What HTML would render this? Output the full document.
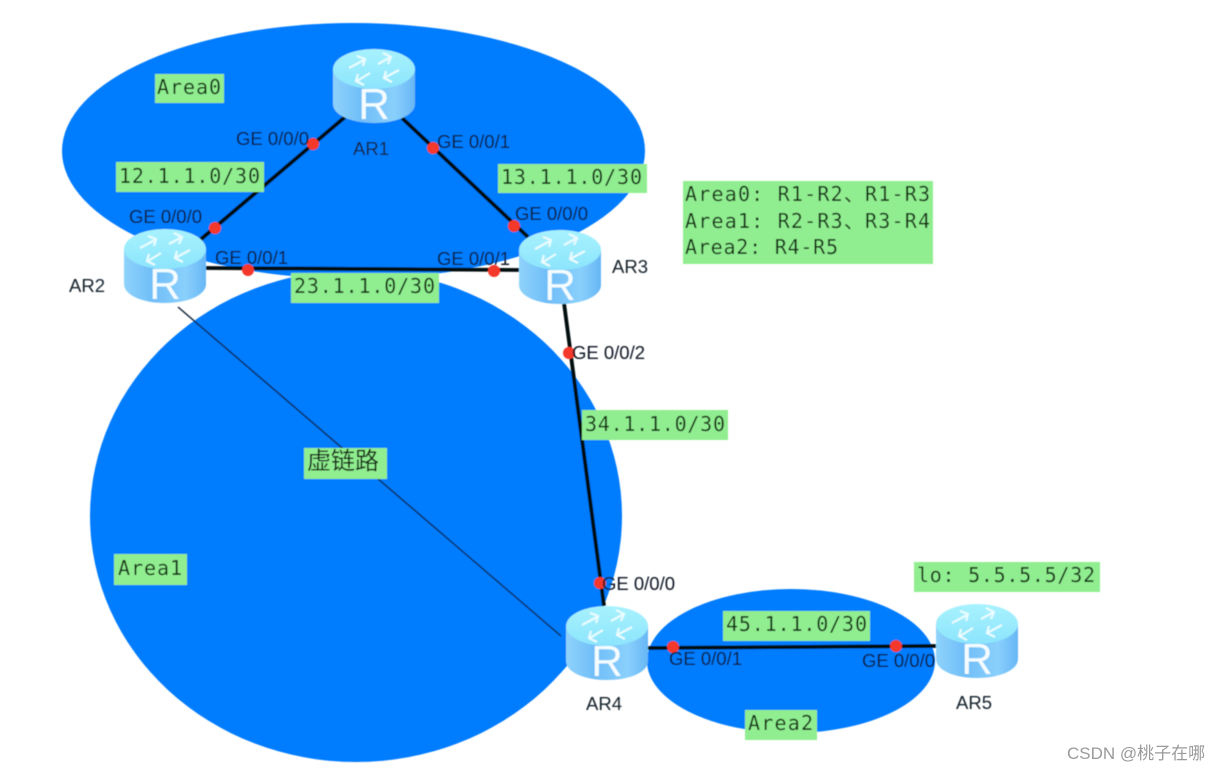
<!DOCTYPE html>
<html><head><meta charset="utf-8"><style>
html,body{margin:0;padding:0;background:#fff}
svg{display:block}
.g{font-family:"Liberation Sans",sans-serif;font-size:18.500px;fill:#081420}
.a{font-family:"Liberation Sans",sans-serif;font-size:18.500px;fill:#14202c}
.m{font-family:"DejaVu Sans Mono","Liberation Mono",monospace;font-size:20px;fill:#0e2a10}
.b{fill:#90ee90}
</style></head><body>
<svg width="1219" height="772" viewBox="0 0 1219 772" xmlns="http://www.w3.org/2000/svg">
<defs>
<linearGradient id="side" x1="0" x2="1" y1="0" y2="0"><stop offset="0" stop-color="#8fd3fb"/><stop offset=".35" stop-color="#6fbdf8"/><stop offset=".75" stop-color="#8ad0fc"/><stop offset="1" stop-color="#66b6f6"/></linearGradient>
<linearGradient id="top" x1="0" x2="0" y1="0" y2="1"><stop offset="0" stop-color="#a8f2fe"/><stop offset="1" stop-color="#8ce4fc"/></linearGradient>
<filter id="bl" x="-10%" y="-10%" width="120%" height="120%"><feGaussianBlur stdDeviation=".55"/></filter>
<g id="r">
<path d="M0 20V55C0 66 18 74 41 74S82 66 82 55V20Z" fill="url(#side)"/>
<ellipse cx="41" cy="20" rx="41" ry="20" fill="url(#top)"/>
<g fill="none" stroke="#eafcff" stroke-width="2.200">
<path d="M16 19L31 11M24 7l8 3-2 7M66 21L51 29M59 33l-8-4 2-7M37 24L24 32M31 36l-8-4 2-7M45 15L58 8M50 4l8 4-3 7"/>
</g>
<text x="41" y="70" text-anchor="middle" font-family="Liberation Sans,sans-serif" font-size="44" fill="#f4fcff">R</text>
</g>
</defs>
<rect width="1219" height="772" fill="#fff"/>
<g filter="url(#bl)">
<ellipse cx="353.500" cy="151" rx="291.500" ry="128" fill="#007bff"/>
<ellipse cx="356" cy="516" rx="266" ry="246" fill="#007bff"/>
<ellipse cx="791" cy="661" rx="144" ry="72" fill="#007bff"/>
<g stroke="#05080e" stroke-width="3.800" fill="none">
<line x1="345" y1="117" x2="200" y2="240"/>
<line x1="402" y1="118" x2="528" y2="237"/>
<line x1="205" y1="268" x2="520" y2="270"/>
<line x1="564" y1="303" x2="604" y2="606"/>
<line x1="646" y1="648" x2="937" y2="646"/>
</g>
<line x1="178" y1="307" x2="561" y2="636" stroke="#0b2238" stroke-width="1.400"/>
<use href="#r" x="333" y="49"/>
<use href="#r" x="124" y="229"/>
<use href="#r" x="519" y="230"/>
<use href="#r" x="566" y="606"/>
<use href="#r" x="936" y="604"/>
<g fill="#f4372c">
<circle cx="313" cy="144" r="6"/><circle cx="433" cy="148" r="6"/>
<circle cx="215" cy="228" r="6"/><circle cx="514" cy="226" r="6"/>
<circle cx="248" cy="270" r="6"/><circle cx="494" cy="271" r="6"/>
<circle cx="569" cy="353" r="6"/><circle cx="600" cy="583" r="6"/>
<circle cx="673" cy="647" r="6"/><circle cx="896" cy="646" r="6"/>
</g>
<rect class="b" x="155" y="74" width="69" height="29"/>
<rect class="b" x="116" y="162" width="148" height="30"/>
<rect class="b" x="498" y="164" width="149" height="29"/>
<rect class="b" x="683" y="181" width="250" height="83"/>
<rect class="b" x="291" y="273" width="148" height="30"/>
<rect class="b" x="582" y="410" width="146" height="30"/>
<rect class="b" x="304" y="448" width="83" height="31"/>
<rect class="b" x="114" y="554" width="73" height="31"/>
<rect class="b" x="914" y="562" width="186" height="30"/>
<rect class="b" x="723" y="611" width="147" height="30"/>
<rect class="b" x="745" y="710" width="72" height="30"/>
<g class="m">
<text x="157" y="94" textLength="64">Area0</text>
<text x="119" y="183" textLength="141">12.1.1.0/30</text>
<text x="501" y="184" textLength="141">13.1.1.0/30</text>
<text x="294" y="293" textLength="141">23.1.1.0/30</text>
<text x="585" y="431" textLength="140">34.1.1.0/30</text>
<text x="118" y="575" textLength="64">Area1</text>
<text x="917" y="582" textLength="178">lo: 5.5.5.5/32</text>
<text x="726" y="631" textLength="141">45.1.1.0/30</text>
<text x="748" y="730" textLength="65">Area2</text>
<text x="685" y="201" font-family="'DejaVu Sans Mono','Noto Sans CJK SC',monospace" textLength="245">Area0: R1-R2、R1-R3</text>
<text x="685" y="228" font-family="'DejaVu Sans Mono','Noto Sans CJK SC',monospace" textLength="245">Area1: R2-R3、R3-R4</text>
<text x="685" y="254" textLength="153">Area2: R4-R5</text>
</g>
<text x="307" y="469" font-family="'Noto Sans CJK SC',sans-serif" font-size="24" fill="#0e1e0e">虚链路</text>
<g class="g">
<text x="236" y="145">GE 0/0/0</text>
<text x="437" y="148">GE 0/0/1</text>
<text x="129" y="223">GE 0/0/0</text>
<text x="515" y="220">GE 0/0/0</text>
<text x="215" y="264">GE 0/0/1</text>
<text x="437" y="265">GE 0/0/1</text>
<text x="572" y="359">GE 0/0/2</text>
<text x="602" y="590">GE 0/0/0</text>
<text x="669" y="665">GE 0/0/1</text>
<text x="862" y="667">GE 0/0/0</text>
</g>
<g class="a">
<text x="353" y="155">AR1</text>
<text x="69" y="292">AR2</text>
<text x="612" y="273">AR3</text>
<text x="586" y="710">AR4</text>
<text x="956" y="709">AR5</text>
</g>
</g>
<text x="1067" y="759" font-family="'Liberation Sans','Noto Sans CJK SC',sans-serif" font-size="17" fill="#9a9a9a">CSDN @桃子在哪</text>
</svg>
</body></html>
